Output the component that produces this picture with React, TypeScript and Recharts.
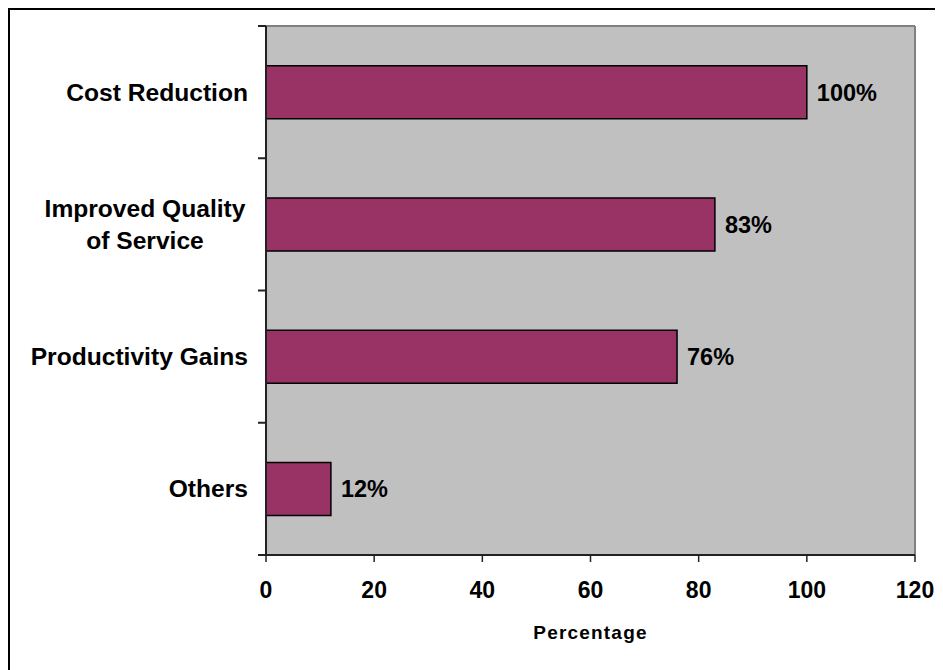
import React from "react";
import {
  BarChart, Bar, XAxis, YAxis, CartesianGrid, LabelList
} from "recharts";

const categories = ["Cost Reduction", "Improved Quality of Service", "Productivity Gains", "Others"];
const values = [100, 83, 76, 12];
const xTicks = [0, 20, 40, 60, 80, 100, 120];

const data = categories.map((name, i) => ({ name, value: values[i] }));

const FONT = "'Liberation Sans', Arial, Helvetica, sans-serif";
const W = 933;
const H = 660;
const MARGIN = { top: 16, right: 28, left: 0, bottom: 55 };
const BAND = (H - MARGIN.top - MARGIN.bottom - 60) / categories.length;

// split long category names into two centred lines, like Excel does
function wrap(label: string): string[] {
  if (label.length <= 20) return [label];
  const words = label.split(" ");
  return [words.slice(0, 2).join(" "), words.slice(2).join(" ")];
}

function CategoryTick(props: any) {
  const { x, y, payload, index } = props;
  const lines = wrap(String(payload.value));
  const last = index === categories.length - 1;
  return (
    <g>
      <line x1={x - 8} x2={x} y1={y - BAND / 2} y2={y - BAND / 2} stroke="#222" strokeWidth={2} />
      {last && (
        <line x1={x - 8} x2={x} y1={y + BAND / 2} y2={y + BAND / 2} stroke="#222" strokeWidth={2} />
      )}
      {lines.length === 1 ? (
        <text x={x - 18} y={y} textAnchor="end" dominantBaseline="central"
          fontFamily={FONT} fontWeight="bold" fontSize={24.6} fill="#000">
          {lines[0]}
        </text>
      ) : (
        lines.map((l, i) => (
          <text key={i} x={x - 121} y={y - 16 + i * 32} textAnchor="middle" dominantBaseline="central"
            fontFamily={FONT} fontWeight="bold" fontSize={24.6} fill="#000">
            {l}
          </text>
        ))
      )}
    </g>
  );
}

export default function App() {
  return (
    <div
      style={{
        width: 935,
        height: 662,
        boxSizing: "border-box",
        borderLeft: "2px solid #000",
        borderTop: "2px solid #000",
        background: "#fff",
      }}
    >
      <BarChart
        width={W}
        height={H}
        data={data}
        layout="vertical"
        margin={MARGIN}
        barCategoryGap="30%"
      >
        <CartesianGrid
          fill="#C0C0C0"
          stroke="#808080"
          strokeWidth={2}
          horizontalCoordinatesGenerator={({ offset }: any) => [offset.top]}
          verticalCoordinatesGenerator={({ offset }: any) => [offset.left + offset.width]}
        />
        <XAxis
          type="number"
          domain={[0, 120]}
          ticks={xTicks}
          interval={0}
          height={60}
          axisLine={{ stroke: "#222", strokeWidth: 2 }}
          tickLine={{ stroke: "#222", strokeWidth: 1.5 }}
          tickSize={7}
          tickMargin={20}
          tick={{ fontFamily: FONT, fontWeight: "bold", fontSize: 23, fill: "#000" }}
          label={({ viewBox }: any) => (
            <text
              x={viewBox.x + viewBox.width / 2}
              y={viewBox.y + 77}
              textAnchor="middle"
              dominantBaseline="central"
              fontFamily={FONT}
              fontWeight="bold"
              fontSize={19}
              letterSpacing={1.2}
              fill="#000"
            >
              Percentage
            </text>
          )}
        />
        <YAxis
          type="category"
          dataKey="name"
          width={256}
          axisLine={{ stroke: "#222", strokeWidth: 2 }}
          tickLine={false}
          tickSize={0}
          tickMargin={0}
          interval={0}
          tick={<CategoryTick />}
        />
        <Bar dataKey="value" fill="#993366" stroke="#000" strokeWidth={1.5} isAnimationActive={false}>
          <LabelList
            dataKey="value"
            position="right"
            offset={10}
            formatter={(v: any) => `${v}%`}
            style={{ fontFamily: FONT, fontWeight: "bold", fontSize: 23.5, fill: "#000" }}
          />
        </Bar>
      </BarChart>
    </div>
  );
}
